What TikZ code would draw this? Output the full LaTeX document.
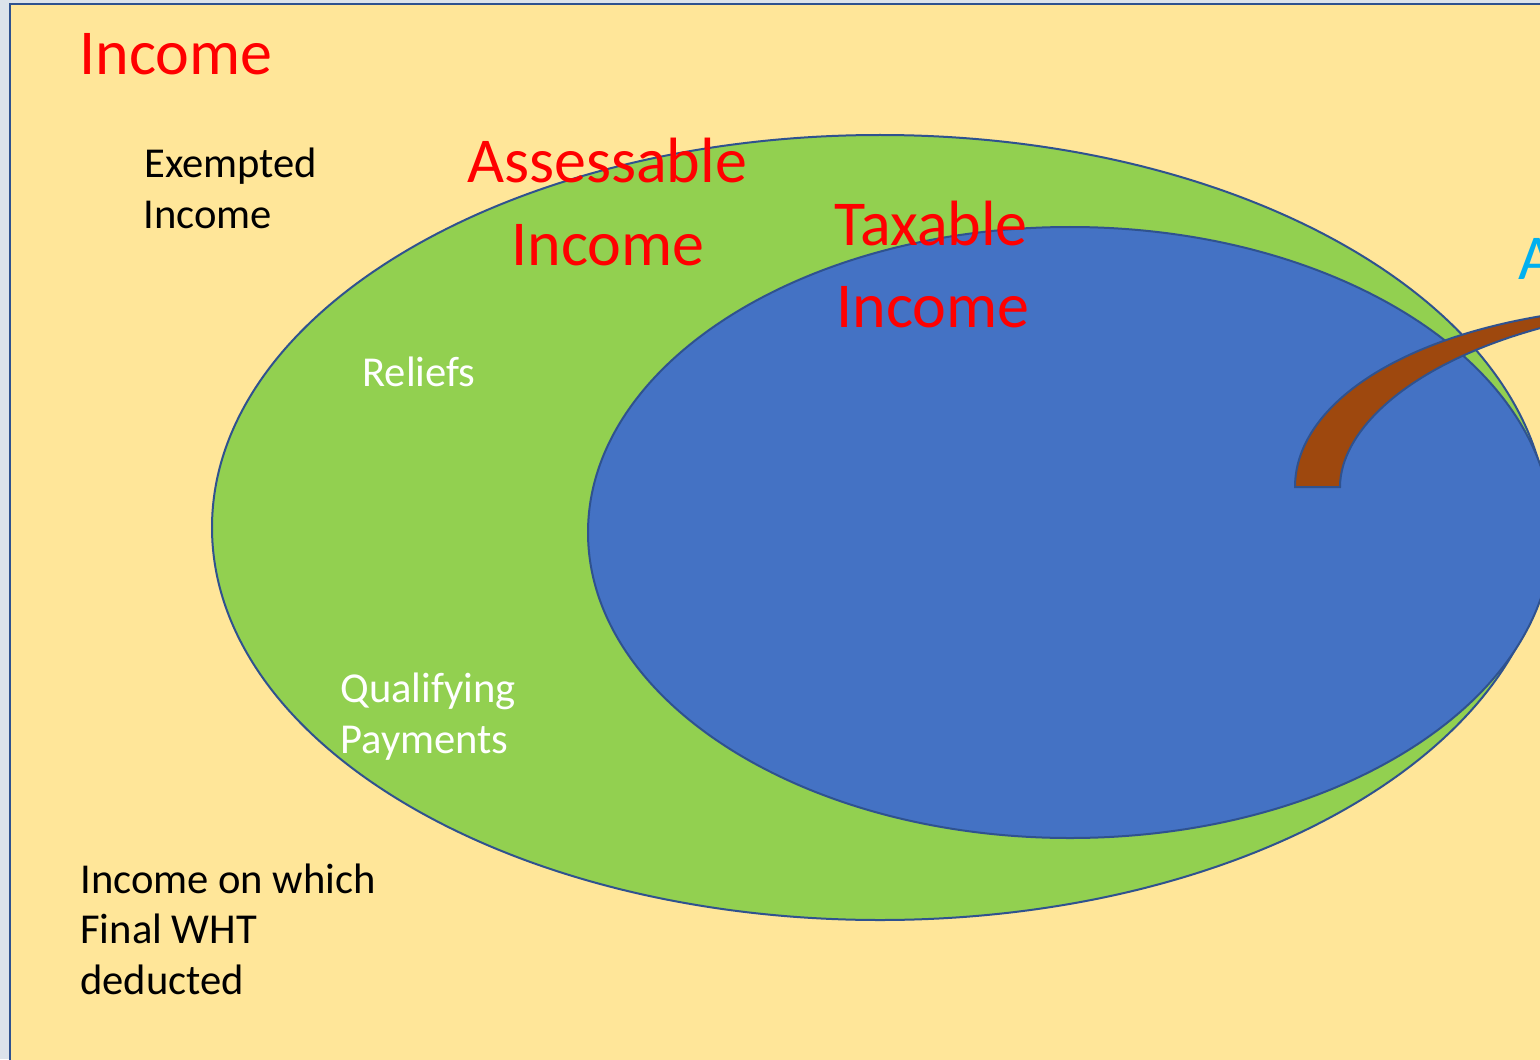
\documentclass[tikz,border=0pt]{standalone}
\usepackage{fontspec}
\setmainfont{Carlito}
\definecolor{bgout}{HTML}{DCE3EB}
\definecolor{yel}{HTML}{FFE699}
\definecolor{grn}{HTML}{92D050}
\definecolor{blu}{HTML}{4472C4}
\definecolor{edge}{HTML}{2F528F}
\definecolor{brn}{HTML}{9E480E}
\definecolor{redt}{HTML}{FF0000}
\definecolor{cyant}{HTML}{00B0F0}
\begin{document}
\begin{tikzpicture}[x=0.5pt,y=-0.5pt,
  shapeedge/.style={draw=edge,line width=1pt},
  bigtxt/.style={inner sep=0,anchor=base,font=\fontsize{32}{38}\selectfont},
  smalltxt/.style={inner sep=0,anchor=base west,font=\fontsize{21.3}{26}\selectfont}]
\useasboundingbox (0,0) rectangle (1540,1059);
\clip (0,0) rectangle (1540,1059);
\fill[bgout] (0,0) rectangle (1540,1059);
\draw[fill=yel,draw=edge,line width=1.1pt] (10,4) rectangle (1600,1120);
% ellipses
\draw[shapeedge,fill=grn] (880,527.5) ellipse [x radius=668, y radius=392.5];
\draw[shapeedge,fill=blu] (1070,532.5) ellipse [x radius=482, y radius=305.5];
% curved band
\draw[shapeedge,fill=brn] (1295,487) .. controls (1295,410) and (1390,340) .. (1548,315)
  -- (1548,326) .. controls (1410,362) and (1340,430) .. (1340,487) -- cycle;
% texts
\node[bigtxt,text=redt] (inc) at (176,75) {Income};
\node[bigtxt,text=redt] (ass1) at (607,183) {Assessable};
\node[bigtxt,text=redt] (ass2) at (608,265) {Income};
\node[bigtxt,text=redt] (tax1) at (931,245) {Taxable};
\node[bigtxt,text=redt] (tax2) at (933,327) {Income};
\node[bigtxt,anchor=base west,text=cyant] (aa) at (1518,279) {A};
\node[smalltxt] (ex1) at (144,177) {Exempted};
\node[smalltxt] (ex2) at (143,228) {Income};
\node[smalltxt,text=white] (rel) at (362,386) {Reliefs};
\node[smalltxt,text=white] (qp1) at (340,702) {Qualifying};
\node[smalltxt,text=white] (qp2) at (340,753) {Payments};
\node[smalltxt] (wh1) at (80,893) {Income on which};
\node[smalltxt] (wh2) at (80,943) {Final WHT};
\node[smalltxt] (wh3) at (80,994) {deducted};
\end{tikzpicture}
\end{document}
